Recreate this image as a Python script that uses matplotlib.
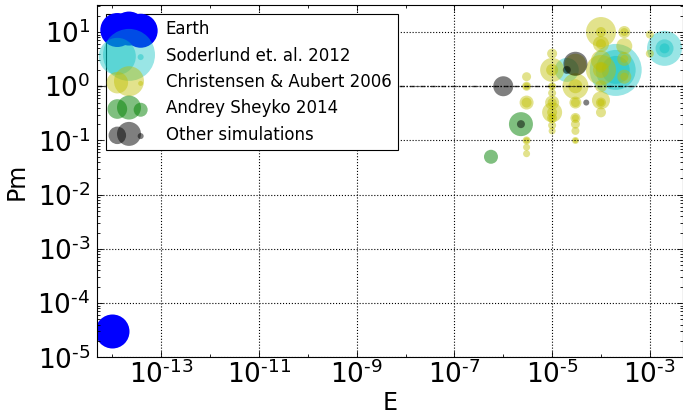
import matplotlib.pyplot as plt
from matplotlib.ticker import FixedLocator, FuncFormatter, LogLocator, NullFormatter
import numpy as np

plt.rcParams['axes.unicode_minus'] = False

# Earth
earth_E = [1e-14]
earth_Pm = [3e-5]
earth_r = [17]

# Soderlund et. al. 2012
sod_E = [2e-4, 2e-4, 2e-4, 2e-3, 2e-3, 2e-3, 2e-5, 2e-5]
sod_Pm = [2, 2, 2, 5, 5, 5, 2, 2]
sod_r = [26, 20, 14, 17.5, 9, 5, 12, 3]

# Christensen & Aubert 2006
ca_E = [3e-6, 3e-6, 3e-6, 3e-6, 3e-6, 3e-6, 3e-6, 3e-6, 3e-6,
        1e-5, 1e-5, 1e-5, 1e-5, 1e-5, 1e-5, 1e-5, 1e-5, 1e-5, 1e-5, 1e-5,
        1e-5, 1e-5, 1e-5,
        3e-5, 3e-5, 3e-5, 3e-5, 3e-5, 3e-5, 3e-5, 3e-5, 3e-5, 3e-5, 3e-5,
        1e-4, 1e-4, 1e-4, 1e-4, 1e-4, 1e-4, 1e-4, 1e-4, 1e-4, 1e-4, 1e-4,
        1e-4, 1e-4,
        3e-4, 3e-4, 3e-4, 3e-4, 3e-4, 3e-4, 3e-4,
        1e-3, 1e-3]
ca_Pm = [1.5, 1.0, 1.0, 0.5, 0.5, 0.1, 0.1, 0.075, 0.057,
         4, 2, 2, 1, 1, 0.75, 0.5, 0.5, 0.33, 0.33, 0.26, 0.26, 0.19, 0.15,
         2.5, 1, 1, 0.5, 0.5, 0.26, 0.26, 0.2, 0.15, 0.1, 0.1,
         10, 10, 6, 6, 3, 2, 2, 2.2, 1, 0.55, 0.5, 0.5, 0.33,
         10, 10, 5.5, 3.2, 3.2, 1.5, 1.5,
         9, 4]
ca_r = [4.5, 4.5, 3.5, 7, 5, 4, 3, 3.5, 3.5,
        5, 12, 6, 4, 3, 4, 7, 4.5, 10, 5, 5, 3.5, 4, 3.5,
        11, 13, 7, 6, 4.5, 5, 3.5, 4.5, 4, 3.5, 2.5,
        15, 5, 8, 5, 10, 15, 8, 5, 6, 9, 5, 3.5, 5,
        6, 4, 8, 7, 4, 7, 4,
        4, 4]

# Andrey Sheyko 2014
as_E = [2.3e-6, 5.6e-7]
as_Pm = [0.2, 0.05]
as_r = [12, 7]

# Other simulations
ot_E = [1e-6, 3e-5, 2e-5, 2.3e-6, 5e-5]
ot_Pm = [1, 2.6, 2, 0.2, 0.5]
ot_r = [10, 12, 4, 4, 3]


def area(r):
    # radius in pixels -> scatter size in points^2 (dpi 100)
    return (2 * np.array(r) * 0.72) ** 2


fig = plt.figure(figsize=(6.83, 4.15), dpi=100)
ax = fig.add_axes([0.1425, 0.139, 0.857, 0.848])

ax.scatter(earth_E, earth_Pm, s=area(earth_r), c='b', lw=0, label='Earth')
ax.scatter(sod_E, sod_Pm, s=area(sod_r), c='c', alpha=0.4, lw=0, label='Soderlund et. al. 2012')
ax.scatter(ca_E, ca_Pm, s=area(ca_r), c='y', alpha=0.45, lw=0, label='Christensen & Aubert 2006')
ax.scatter(as_E, as_Pm, s=area(as_r), c='g', alpha=0.5, lw=0, label='Andrey Sheyko 2014')
ax.scatter(ot_E, ot_Pm, s=area(ot_r), c='k', alpha=0.5, lw=0, label='Other simulations')

ax.axhline(1, color='k', ls='-.', lw=1, alpha=0.8, dashes=(3.5, 1.5, 1, 1.5))

ax.set_xscale('log')
ax.set_yscale('log')
ax.set_xlim(4.9e-15, 4.7e-3)
ax.set_ylim(1e-5, 31)

ax.xaxis.set_major_locator(FixedLocator([10.0 ** k for k in range(-13, -2, 2)]))
ax.xaxis.set_minor_locator(FixedLocator([10.0 ** k for k in range(-14, -1, 2)]))
ax.yaxis.set_major_locator(FixedLocator([10.0 ** k for k in range(-5, 2)]))
ax.yaxis.set_minor_locator(LogLocator(base=10, subs=np.arange(2, 10), numticks=20))
ax.xaxis.set_minor_formatter(NullFormatter())
ax.yaxis.set_minor_formatter(NullFormatter())


def fmt(v, pos):
    return r'$\mathdefault{10^{\text{%d}}}$' % int(round(np.log10(v)))


ax.xaxis.set_major_formatter(FuncFormatter(fmt))
ax.yaxis.set_major_formatter(FuncFormatter(fmt))

ax.tick_params(which='both', direction='in', top=True, right=True, labelsize=19)
ax.tick_params(which='major', length=4.5, width=0.6)
ax.tick_params(which='minor', length=2.5, width=0.6)
ax.tick_params(axis='x', pad=2)
ax.tick_params(axis='y', pad=5)

ax.grid(True, which='major', color='k', ls=':', lw=0.8)

ax.set_xlabel('E', fontsize=17, labelpad=2)
ax.set_ylabel('Pm', fontsize=17, labelpad=6)

leg = ax.legend(loc='upper left', scatterpoints=3, fontsize=12, fancybox=False,
                framealpha=1, edgecolor='k', handletextpad=1.2, borderaxespad=0.5)
leg.get_frame().set_linewidth(0.8)

fig.savefig('out.png', dpi=100)
